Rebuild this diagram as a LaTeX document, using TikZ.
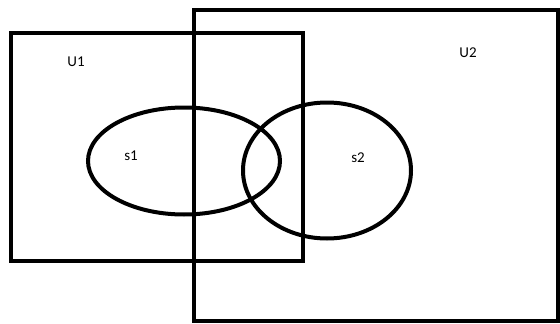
\documentclass[tikz,border=0pt]{standalone}
\usepackage{fontspec}
\setmainfont{Carlito}
\usepackage{tikz}

\begin{document}
\begin{tikzpicture}[
  x=1pt,y=-1pt,
  set/.style={draw=black,line width=4pt},
  lbl/.style={font=\fontsize{15}{18}\selectfont,inner sep=0pt}
]
\useasboundingbox (0,0) rectangle (560,324);
% universes
\draw[set] (10.5,33) rectangle (303,261);
\draw[set] (194,9.5) rectangle (557.5,321);
% sets
\draw[set] (184,161) ellipse [x radius=96,y radius=53.5];
\draw[set] (327,170.5) ellipse [x radius=84,y radius=68];
% labels
\node[lbl] (u1) at (76,62) {U1};
\node[lbl] (u2) at (468,52.5) {U2};
\node[lbl] (s1) at (131,155.5) {s1};
\node[lbl] (s2) at (358,157.5) {s2};
\end{tikzpicture}
\end{document}
